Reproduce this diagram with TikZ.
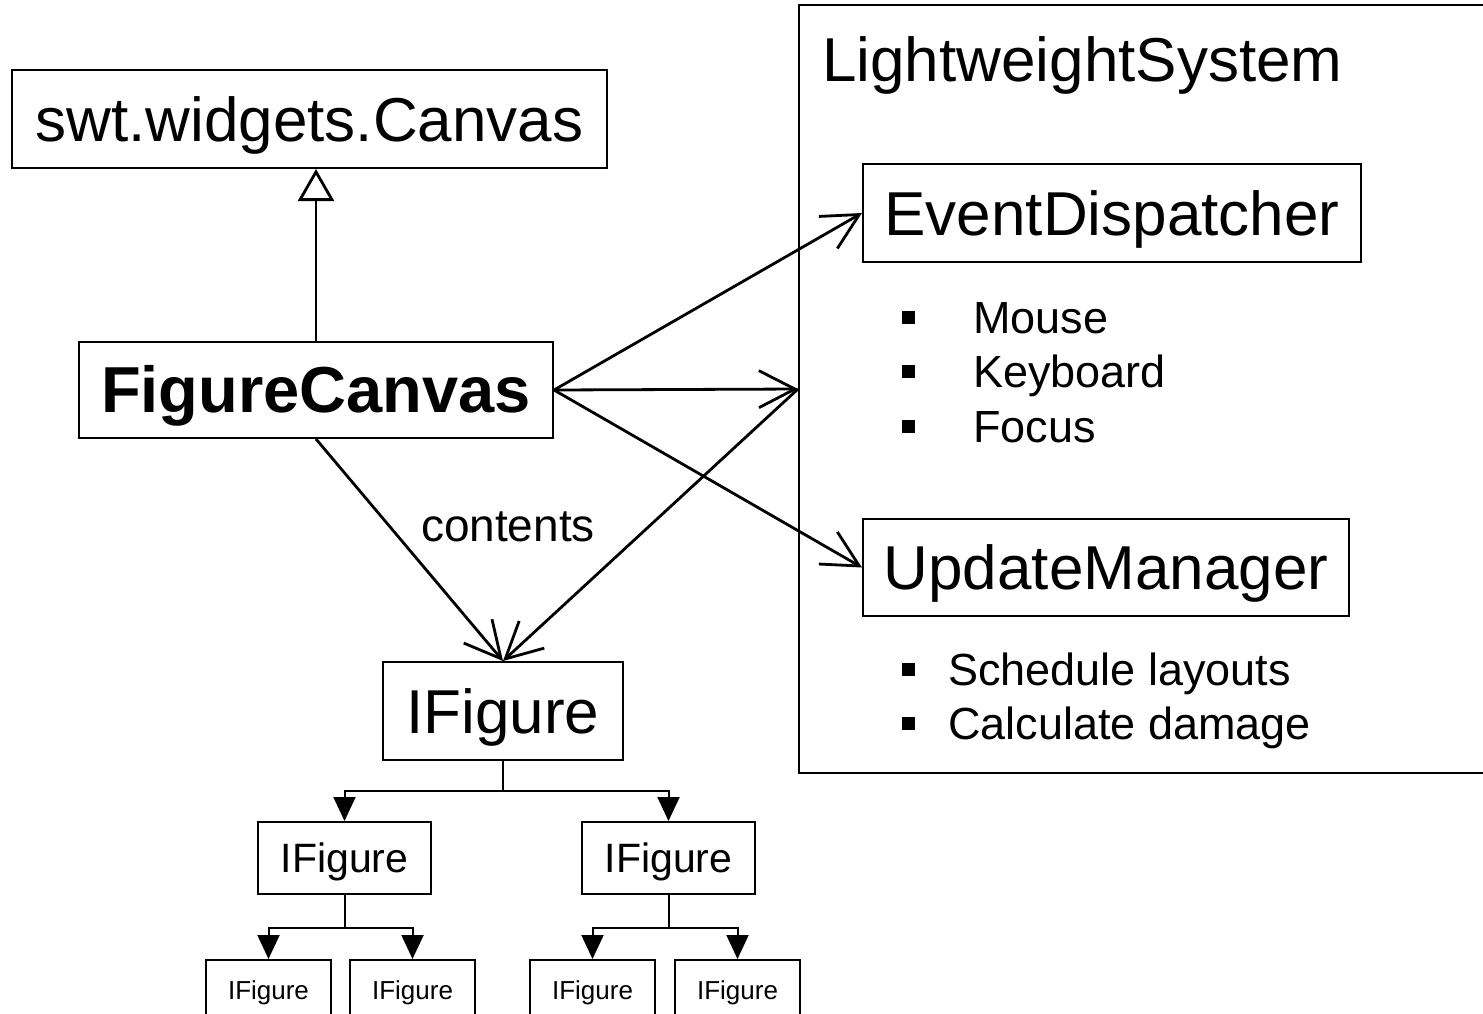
\documentclass[tikz,border=0pt]{standalone}
\usepackage{fontspec}
\setmainfont{Liberation Sans}
\usetikzlibrary{arrows.meta}

\tikzset{
  box/.style={draw, line width=2pt, inner sep=0pt},
  big/.style={font=\fontsize{62}{62}\selectfont, text height=44pt, text depth=0pt},
  mid/.style={font=\fontsize{41}{41}\selectfont, text height=29.4pt, text depth=0pt},
  small/.style={font=\fontsize{26}{26}\selectfont, text height=18.6pt, text depth=0pt},
  item/.style={anchor=west, inner sep=0pt, font=\fontsize{45}{45}\selectfont, text height=32.2pt, text depth=0pt},
  link/.style={line width=2.8pt, -{Straight Barb[length=36pt,width=37pt]}},
  tree/.style={line width=2pt, -{Triangle[length=24pt,width=22pt]}},
}
\newcommand{\bul}{\raisebox{9.6pt}{\rule{13pt}{13pt}}}

\begin{document}
\begin{tikzpicture}[x=1pt, y=-1pt]
\useasboundingbox (0,0) rectangle (1483,1013);
\clip (0,0) rectangle (1483,1013);

\node [box, big, minimum width=595pt, minimum height=98pt] (canvas) at (309.5,119) {swt.widgets.Canvas};
\node [box, big, font=\fontsize{65}{65}\selectfont\bfseries, minimum width=474pt, minimum height=96pt] (fc) at (316,390) {FigureCanvas};

\node [box, minimum width=721pt, minimum height=768pt] (lws) at (1159.5,389) {};
\node [big, anchor=base west, inner sep=0pt] (lwsname) at (822,81) {LightweightSystem};
\node [box, big, minimum width=498pt, minimum height=98pt] (evdisp) at (1112,213) {EventDispatcher};
\node [item] (mouse) at (902,317) {\bul\hspace{58pt}Mouse};
\node [item] (keyboard) at (902,371) {\bul\hspace{58pt}Keyboard};
\node [item] (focus) at (902,426) {\bul\hspace{58pt}Focus};
\node [box, big, minimum width=486pt, minimum height=97pt] (updmgr) at (1106,567.5) {UpdateManager};
\node [item] (sched) at (902,669) {\bul\hspace{33pt}Schedule layouts};
\node [item] (calc) at (902,723) {\bul\hspace{33pt}Calculate damage};

\node [box, big, minimum width=240pt, minimum height=98pt] (root) at (503,711) {IFigure};
\node [box, mid, minimum width=173pt, minimum height=72pt] (kidl) at (344.5,858) {IFigure};
\node [box, mid, minimum width=173pt, minimum height=72pt] (kidr) at (668.5,858) {IFigure};
\node [box, small, minimum width=125pt, minimum height=60pt] (leafa) at (268.5,990) {IFigure};
\node [box, small, minimum width=125pt, minimum height=60pt] (leafb) at (412.5,990) {IFigure};
\node [box, small, minimum width=125pt, minimum height=60pt] (leafc) at (592.5,990) {IFigure};
\node [box, small, minimum width=125pt, minimum height=60pt] (leafd) at (737.5,990) {IFigure};

\node [font=\fontsize{46}{46}\selectfont, inner sep=0pt] (contentslbl) at (508,527) {contents};

\draw [line width=2.8pt, -{Triangle[open,length=32pt,width=36pt,fill=white]}] (fc.north) -- (fc.north |- canvas.south);
\draw [link] (fc.east) -- (evdisp.west);
\draw [link] (fc.east) -- (lws.west);
\draw [link] (fc.east) -- (updmgr.west);
\draw [link] (fc.south) -- (root.north);
\draw [link] (lws.west) -- (root.north);

\draw [tree] (root.south) -- ++(0,30) -| (kidl.north);
\draw [tree] (root.south) -- ++(0,30) -| (kidr.north);
\draw [tree] (kidl.south) -- ++(0,33) -| (leafa.north);
\draw [tree] (kidl.south) -- ++(0,33) -| (leafb.north);
\draw [tree] (kidr.south) -- ++(0,33) -| (leafc.north);
\draw [tree] (kidr.south) -- ++(0,33) -| (leafd.north);
\end{tikzpicture}
\end{document}
